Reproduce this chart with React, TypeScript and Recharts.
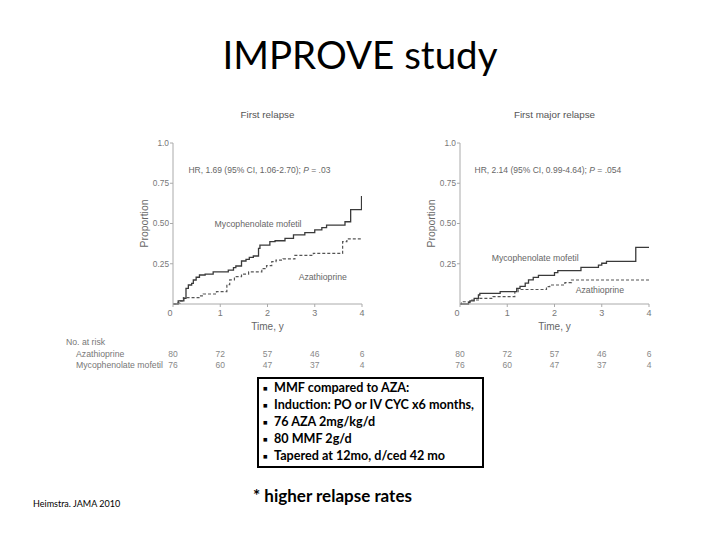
import React from 'react';
import { LineChart, Line, XAxis, YAxis, ReferenceDot } from 'recharts';

const narrow = "'Liberation Sans', Arial, Helvetica, sans-serif";
const slide = "Lato, 'Open Sans', sans-serif";

const timeTicks = [0, 1, 2, 3, 4];
const propTicks = [0.25, 0.5, 0.75, 1];
const propLabels = ['0.25', '0.50', '0.75', '1.0'];

// No. at risk (same in both panels)
const riskAza = [80, 72, 57, 46, 6];
const riskMmf = [76, 60, 47, 37, 4];

// First relapse
const relMmfT = [0, 0.11, 0.23, 0.275, 0.325, 0.395, 0.43, 0.49, 0.56, 0.68, 0.85, 1.17, 1.28, 1.33, 1.45, 1.545, 1.615, 1.7, 1.81, 1.84, 2.05, 2.16, 2.37, 2.55, 2.79, 3.0, 3.15, 3.25, 3.64, 3.76, 3.99, 4.0];
const relMmfP = [0, 0.02, 0.035, 0.097, 0.118, 0.128, 0.149, 0.166, 0.18, 0.186, 0.2, 0.21, 0.226, 0.236, 0.267, 0.277, 0.29, 0.298, 0.346, 0.366, 0.387, 0.393, 0.408, 0.429, 0.443, 0.46, 0.474, 0.49, 0.511, 0.586, 0.667, 0.667];
const relAzaT = [0, 0.07, 0.15, 0.22, 0.57, 0.64, 0.92, 1.14, 1.2, 1.3, 1.45, 1.6, 1.88, 1.98, 2.09, 2.18, 2.33, 2.58, 2.97, 3.59, 3.68, 4.0];
const relAzaP = [0, 0.005, 0.02, 0.04, 0.05, 0.062, 0.077, 0.12, 0.15, 0.17, 0.186, 0.2, 0.22, 0.238, 0.263, 0.273, 0.28, 0.302, 0.315, 0.387, 0.405, 0.405];

// First major relapse
const majMmfT = [0, 0.18, 0.21, 0.3, 0.39, 0.42, 0.85, 1.2, 1.27, 1.38, 1.45, 1.55, 1.66, 2.0, 2.07, 2.56, 2.93, 3.0, 3.1, 3.72, 4.0];
const majMmfP = [0, 0.008, 0.02, 0.035, 0.056, 0.066, 0.077, 0.097, 0.11, 0.13, 0.15, 0.165, 0.178, 0.195, 0.207, 0.228, 0.242, 0.253, 0.265, 0.352, 0.352];
const majAzaT = [0, 0.03, 0.25, 0.42, 0.7, 1.16, 1.23, 1.83, 1.9, 2.22, 2.36, 4.0];
const majAzaP = [0, 0.014, 0.025, 0.035, 0.046, 0.077, 0.09, 0.108, 0.118, 0.133, 0.149, 0.149];

const steps = (t: number[], p: number[]) => t.map((x, i) => ({ t: x, p: p[i] }));

function TimeTick(props: any) {
  const { x, y, payload } = props;
  const i = timeTicks.indexOf(payload.value);
  const txt = { textAnchor: 'middle' as const, fontFamily: narrow };
  return (
    <g>
      <text x={x + (payload.value === 0 ? -3 : 0)} y={y} dy="0.71em" {...txt} fontSize={9} fill="#777">{payload.value}</text>
      <text x={x} y={y + 47} {...txt} fontSize={8.5} fill="#888">{riskAza[i]}</text>
      <text x={x} y={y + 58} {...txt} fontSize={8.5} fill="#888">{riskMmf[i]}</text>
    </g>
  );
}

const note = (text: string, size = 8.7) => (p: any) => (
  <text x={p.viewBox.x} y={p.viewBox.y} textAnchor="middle" dominantBaseline="central"
    fontSize={size} fill="#666" fontFamily={narrow}>{text}</text>
);

const hrNote = (pre: string, post: string) => (p: any) => (
  <text x={p.viewBox.x} y={p.viewBox.y} textAnchor="middle" dominantBaseline="central"
    fontSize={8.5} fill="#666" fontFamily={narrow}>
    {pre}<tspan fontStyle="italic">P</tspan>{post}
  </text>
);

function KMChart(props: any) {
  const { left, marginLeft, marginRight, title, mmf, aza, hr, mmfAt, azaAt } = props;
  return (
    <div style={{ position: 'absolute', left, top: 100 }}>
      <div style={{ position: 'absolute', left: 0, width: 260, top: 9, textAlign: 'center', paddingLeft: marginLeft + 30 - marginRight,
        fontFamily: narrow, fontSize: 9.8, color: '#555', boxSizing: 'border-box' }}>{title}</div>
      <LineChart width={260} height={280} margin={{ top: 43, right: marginRight, bottom: 6, left: marginLeft }}>
        <XAxis dataKey="t" type="number" domain={[0, 4]} ticks={timeTicks} allowDataOverflow
          tick={<TimeTick />} tickSize={3} tickMargin={3} height={70} stroke="#aaa"
          label={{ value: 'Time, y', position: 'insideTop', offset: 19, fontSize: 10, fill: '#666', fontFamily: narrow }} />
        <YAxis type="number" domain={[0, 1]} ticks={propTicks} width={30} tickSize={3} tickMargin={1}
          tickFormatter={(v: number) => propLabels[propTicks.indexOf(v)]}
          tick={{ fontSize: 8.3, fill: '#777', fontFamily: narrow }} stroke="#aaa"
          label={{ value: 'Proportion', angle: -90, position: 'insideLeft', offset: 1, fontSize: 10.4, fill: '#666', fontFamily: narrow, style: { textAnchor: 'middle' } }} />
        <Line data={aza} dataKey="p" type="stepAfter" stroke="#555" strokeWidth={1.2} strokeDasharray="3 2" dot={false} isAnimationActive={false} />
        <Line data={mmf} dataKey="p" type="stepAfter" stroke="#3a3a3a" strokeWidth={1.3} dot={false} isAnimationActive={false} />
        <ReferenceDot x={hr.at[0]} y={hr.at[1]} r={0} fill="none" stroke="none" label={hrNote(hr.pre, hr.post)} />
        <ReferenceDot x={mmfAt[0]} y={mmfAt[1]} r={0} fill="none" stroke="none" label={note('Mycophenolate mofetil')} />
        <ReferenceDot x={azaAt[0]} y={azaAt[1]} r={0} fill="none" stroke="none" label={note('Azathioprine')} />
      </LineChart>
    </div>
  );
}

const bullets = [
  'MMF compared to AZA:',
  'Induction: PO or IV CYC x6 months,',
  '76 AZA 2mg/kg/d',
  '80 MMF 2g/d',
  'Tapered at 12mo, d/ced 42 mo',
];

export default function App() {
  const riskLbl = { position: 'absolute' as const, fontFamily: narrow, fontSize: 8.7, color: '#777', lineHeight: '11px', whiteSpace: 'nowrap' as const };
  return (
    <div style={{ position: 'absolute', left: 0, top: 0, width: 720, height: 540, background: '#fff', fontFamily: slide, overflow: 'hidden' }}>
      <div style={{ position: 'absolute', left: 0, width: 720, top: 34, textAlign: 'center', fontSize: 38.5, lineHeight: '40px', color: '#000' }}>
        IMPROVE study
      </div>

      <KMChart left={120} marginLeft={23} marginRight={18} title="First relapse"
        mmf={steps(relMmfT, relMmfP)} aza={steps(relAzaT, relAzaP)}
        hr={{ at: [1.83, 0.832], pre: 'HR, 1.69 (95% CI, 1.06-2.70); ', post: ' = .03' }}
        mmfAt={[1.8, 0.5]} azaAt={[3.17, 0.168]} />
      <KMChart left={405} marginLeft={25} marginRight={16} title="First major relapse"
        mmf={steps(majMmfT, majMmfP)} aza={steps(majAzaT, majAzaP)}
        hr={{ at: [1.86, 0.832], pre: 'HR, 2.14 (95% CI, 0.99-4.64); ', post: ' = .054' }}
        mmfAt={[1.59, 0.286]} azaAt={[2.96, 0.087]} />

      <div style={{ ...riskLbl, left: 66, top: 337 }}>No. at risk</div>
      <div style={{ ...riskLbl, left: 76, top: 349 }}>Azathioprine</div>
      <div style={{ ...riskLbl, left: 76, top: 360 }}>Mycophenolate mofetil</div>

      <div style={{ position: 'absolute', left: 257, top: 377, width: 227, height: 91, border: '2px solid #000', boxSizing: 'border-box',
        padding: '1px 0 0 4px', fontWeight: 700, fontSize: 12.6 }}>
        {bullets.map((b) => (
          <div key={b} style={{ display: 'flex', alignItems: 'center', height: 17, whiteSpace: 'nowrap', lineHeight: 1 }}>
            <span style={{ display: 'inline-block', width: 11, fontSize: 7.5, lineHeight: 1 }}>■</span>{b}
          </div>
        ))}
      </div>

      <div style={{ position: 'absolute', left: 253, top: 485, fontSize: 17, fontWeight: 700, whiteSpace: 'nowrap' }}>* higher relapse rates</div>
      <div style={{ position: 'absolute', left: 33, top: 498, fontSize: 9, whiteSpace: 'nowrap' }}>Heimstra. JAMA 2010</div>
    </div>
  );
}
